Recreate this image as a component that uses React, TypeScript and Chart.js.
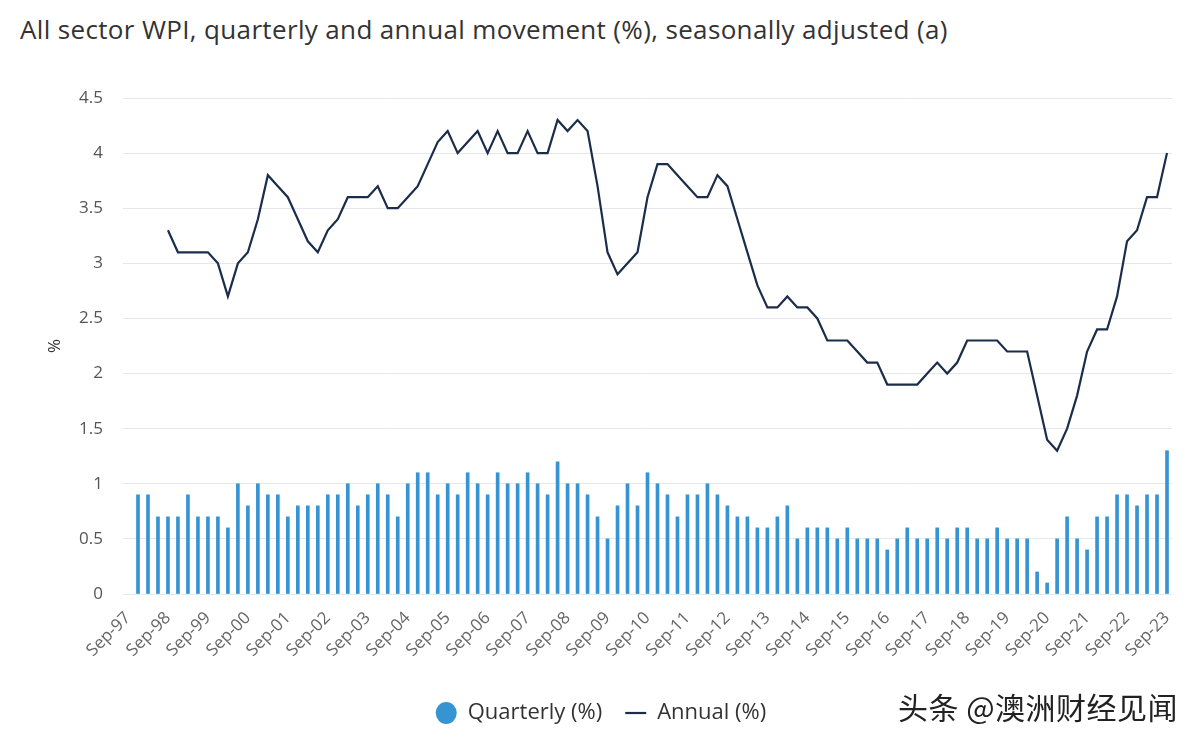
import React, { useEffect, useRef } from "react";
import { Chart, registerables } from "chart.js";

Chart.register(...registerables);

// Quarter labels Sep-97 .. Sep-23
const quarterMonths = ["Sep", "Dec", "Mar", "Jun"];
const firstYear = 1997;
const quarterCount = 105;
const categories: string[] = [];
for (let i = 0; i < quarterCount; i++) {
  const yr = (firstYear + Math.floor((i + 2) / 4)) % 100;
  categories.push(`${quarterMonths[i % 4]}-${String(yr).padStart(2, "0")}`);
}

// Quarterly movement (%)
const quarterly: (number | null)[] = [
  null,
  0.9, 0.9, 0.7, 0.7, 0.7, 0.9, 0.7, 0.7, 0.7, 0.6, 1.0, 0.8, 1.0, 0.9, 0.9, 0.7,
  0.8, 0.8, 0.8, 0.9, 0.9, 1.0, 0.8, 0.9, 1.0, 0.9,
  0.7, 1.0, 1.1, 1.1, 0.9, 1.0, 0.9, 1.1, 1.0, 0.9, 1.1, 1.0, 1.0, 1.1, 1.0, 0.9,
  1.2, 1.0, 1.0, 0.9, 0.7, 0.5, 0.8, 1.0, 0.8, 1.1,
  1.0, 0.9, 0.7, 0.9, 0.9, 1.0, 0.9, 0.8, 0.7, 0.7, 0.6, 0.6, 0.7, 0.8, 0.5, 0.6,
  0.6, 0.6, 0.5, 0.6, 0.5, 0.5, 0.5, 0.4, 0.5, 0.6,
  0.5, 0.5, 0.6, 0.5, 0.6, 0.6, 0.5, 0.5, 0.6, 0.5, 0.5, 0.5, 0.2, 0.1, 0.5, 0.7,
  0.5, 0.4, 0.7, 0.7, 0.9, 0.9, 0.8, 0.9, 0.9, 1.3,
];

// Annual movement (%)
const annual: (number | null)[] = [
  null, null, null, null,
  3.3, 3.1, 3.1, 3.1, 3.1, 3.0, 2.7, 3.0, 3.1, 3.4, 3.8, 3.7, 3.6, 3.4, 3.2, 3.1,
  3.3, 3.4, 3.6, 3.6, 3.6, 3.7, 3.5, 3.5, 3.6, 3.7, 3.9, 4.1, 4.2, 4.0, 4.1,
  4.2, 4.0, 4.2, 4.0, 4.0, 4.2, 4.0, 4.0, 4.3, 4.2, 4.3, 4.2, 3.7, 3.1, 2.9, 3.0,
  3.1, 3.6, 3.9, 3.9, 3.8, 3.7, 3.6, 3.6, 3.8, 3.7, 3.4, 3.1, 2.8, 2.6, 2.6, 2.7, 2.6,
  2.6, 2.5, 2.3, 2.3, 2.3, 2.2, 2.1, 2.1, 1.9, 1.9, 1.9, 1.9, 2.0, 2.1, 2.0, 2.1,
  2.3, 2.3, 2.3, 2.3, 2.2, 2.2, 2.2, 1.8, 1.4, 1.3, 1.5, 1.8, 2.2, 2.4, 2.4, 2.7,
  3.2, 3.3, 3.6, 3.6, 4.0,
];

const FONT = "'Open Sans', 'Noto Sans', sans-serif";

export default function App() {
  const canvasRef = useRef<HTMLCanvasElement | null>(null);

  useEffect(() => {
    if (!canvasRef.current) return;
    Chart.defaults.font.family = FONT;
    const chart = new Chart(canvasRef.current, {
      type: "bar",
      data: {
        labels: categories,
        datasets: [
          {
            type: "bar",
            label: "Quarterly (%)",
            data: quarterly,
            backgroundColor: "#3794d2",
            borderWidth: 0,
            barThickness: 3,
            pointStyle: "circle",
            order: 2,
          } as any,
          {
            type: "line",
            label: "Annual (%)",
            data: annual,
            borderColor: "#1b2d4b",
            backgroundColor: "#1b2d4b",
            borderWidth: 2.2,
            pointRadius: 0,
            pointStyle: "line",
            tension: 0,
            spanGaps: false,
            order: 1,
          } as any,
        ],
      },
      options: {
        responsive: false,
        animation: false,
        devicePixelRatio: 1,
        layout: { padding: { top: 98, right: 0, left: 0, bottom: 6 } },
        plugins: {
          title: { display: false },
          tooltip: { enabled: false },
          legend: {
            position: "bottom",
            labels: {
              usePointStyle: true,
              boxHeight: 15.5,
              pointStyleWidth: 21,
              color: "#333",
              font: { size: 22, family: FONT },
              padding: 23,
              sort: (a: any, b: any) => a.datasetIndex - b.datasetIndex,
            },
          },
        },
        scales: {
          x: {
            offset: true,
            grid: { display: false, drawTicks: false },
            border: { display: false },
            ticks: {
              autoSkip: false,
              minRotation: 45,
              maxRotation: 45,
              color: "#666",
              font: { size: 17, family: FONT },
              padding: 14,
              callback: (_v: any, i: number) => (i % 4 === 0 ? categories[i] : ""),
            },
            afterFit: (s: any) => {
              s.height = 85;
            },
          },
          y: {
            min: 0,
            max: 4.5,
            grid: { color: "#e4e8ee", drawTicks: false },
            border: { display: false },
            ticks: {
              stepSize: 0.5,
              color: "#555",
              font: { size: 17, family: FONT },
              padding: 20,
              callback: (v: any) => String(Math.round(Number(v) * 10) / 10),
            },
            title: {
              display: true,
              text: "%",
              color: "#333",
              font: { size: 17, family: FONT },
              padding: { top: 45, bottom: 0 },
            },
            afterFit: (s: any) => {
              s.width = 123;
            },
          },
          spacer: {
            type: "linear",
            position: "right",
            display: true,
            grid: { display: false, drawTicks: false },
            border: { display: false },
            ticks: { display: false },
            afterFit: (s: any) => {
              s.width = 30;
            },
          },
        },
      } as any,
    });
    return () => chart.destroy();
  }, []);

  return (
    <div
      style={{
        position: "absolute",
        left: 0,
        top: 0,
        width: 1202,
        height: 740,
        background: "#fff",
        overflow: "hidden",
      }}
    >
      <div
        style={{
          position: "absolute",
          left: 20,
          top: 11,
          fontFamily: FONT,
          fontSize: 26,
          letterSpacing: 0.35,
          color: "#333",
          whiteSpace: "nowrap",
        }}
      >
        All sector WPI, quarterly and annual movement (%), seasonally adjusted (a)
      </div>
      <canvas
        ref={canvasRef}
        width={1202}
        height={740}
        style={{ position: "absolute", left: 0, top: 0, width: 1202, height: 740 }}
      />
      <div
        style={{
          position: "absolute",
          left: 898,
          top: 684,
          fontFamily: "'Noto Sans CJK SC', sans-serif",
          fontSize: 30,
          letterSpacing: 0.5,
          color: "#222",
          whiteSpace: "nowrap",
        }}
      >
        头条 @澳洲财经见闻
      </div>
    </div>
  );
}
